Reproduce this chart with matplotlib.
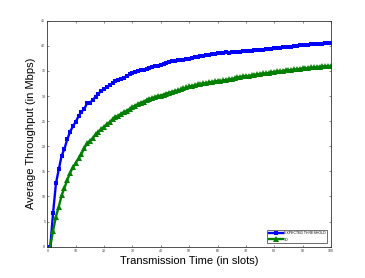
import matplotlib
matplotlib.use("Agg")
import matplotlib.pyplot as plt

slots = list(range(1, 101))

expected_threshold = [
    0.0, 6.8, 12.6, 15.4, 18.1, 19.5, 21.4, 22.9, 24.0, 24.9,
    26.0, 26.9, 27.4, 28.6, 28.7, 29.2, 29.9, 30.5, 31.0, 31.3,
    31.8, 32.2, 32.6, 33.0, 33.1, 33.3, 33.6, 34.0, 34.3, 34.5,
    34.7, 34.9, 35.1, 35.2, 35.4, 35.6, 35.7, 35.9, 36.0, 36.2,
    36.4, 36.6, 36.8, 36.9, 36.9, 37.1, 37.2, 37.2, 37.3, 37.4,
    37.6, 37.7, 37.8, 38.0, 38.0, 38.1, 38.2, 38.3, 38.4, 38.5,
    38.5, 38.6, 38.7, 38.6, 38.7, 38.7, 38.8, 38.8, 38.9, 39.0,
    39.0, 39.0, 39.1, 39.1, 39.1, 39.2, 39.3, 39.4, 39.4, 39.5,
    39.5, 39.6, 39.7, 39.8, 39.8, 39.8, 39.9, 40.0, 40.1, 40.2,
    40.2, 40.2, 40.3, 40.3, 40.4, 40.4, 40.4, 40.5, 40.5, 40.5,
]

td = [
    0.0, 3.2, 6.0, 8.0, 10.2, 11.7, 13.3, 14.7, 15.8, 16.7,
    17.6, 18.5, 19.6, 20.6, 21.1, 21.6, 22.4, 22.9, 23.4, 23.9,
    24.4, 24.8, 25.4, 25.9, 26.0, 26.5, 26.8, 27.1, 27.4, 27.8,
    28.1, 28.4, 28.7, 28.9, 29.2, 29.4, 29.6, 29.8, 30.0, 30.1,
    30.3, 30.5, 30.7, 30.8, 31.0, 31.1, 31.3, 31.5, 31.7, 31.9,
    32.0, 32.1, 32.3, 32.4, 32.5, 32.6, 32.7, 32.8, 32.9, 33.0,
    33.0, 33.1, 33.2, 33.3, 33.4, 33.5, 33.7, 33.8, 33.9, 34.0,
    34.0, 34.1, 34.2, 34.3, 34.4, 34.5, 34.5, 34.6, 34.7, 34.8,
    34.9, 34.9, 35.0, 35.1, 35.1, 35.2, 35.3, 35.3, 35.4, 35.5,
    35.5, 35.6, 35.7, 35.7, 35.8, 35.8, 35.9, 35.9, 36.0, 36.0,
]

xticks = list(range(0, 101, 10))
yticks = list(range(0, 46, 5))

plt.rcParams['font.family'] = ['Liberation Sans', 'DejaVu Sans']

fig = plt.figure(figsize=(3.65, 2.78), dpi=100)
ax = fig.add_axes([0.13, 0.1126, 0.7765, 0.813])

ax.plot(slots, expected_threshold, color=(0, 0, 1), lw=1.7, marker='s',
        markersize=3.4, markeredgewidth=0, label='EXPECTED THRESHOLD')
ax.plot(slots, td, color=(0, 0.5, 0), lw=1.7, marker='^',
        markersize=3.8, markeredgewidth=0, label='TD')

ax.set_xlim(0, 100)
ax.set_ylim(0, 45)
ax.set_xticks(xticks)
ax.set_yticks(yticks)
ax.tick_params(direction='in', length=1.5, width=0.4, labelsize=2.5,
               top=True, right=True, pad=1.5, colors='#333333')
for s in ax.spines.values():
    s.set_linewidth(0.6)
    s.set_color('#333333')

ax.set_xlabel('Transmission Time (in slots)', fontsize=8, labelpad=2)
ax.set_ylabel('Average Throughput (in Mbps)', fontsize=8, labelpad=4)

leg = ax.legend(loc='lower right', bbox_to_anchor=(0.988, 0.015),
                fontsize=2.6, frameon=True, fancybox=False,
                handlelength=4, borderpad=0.5, labelspacing=0.6,
                handletextpad=0.3, borderaxespad=0)
leg.get_frame().set_edgecolor('black')
leg.get_frame().set_linewidth(0.5)

fig.savefig('out.png', dpi=100)
